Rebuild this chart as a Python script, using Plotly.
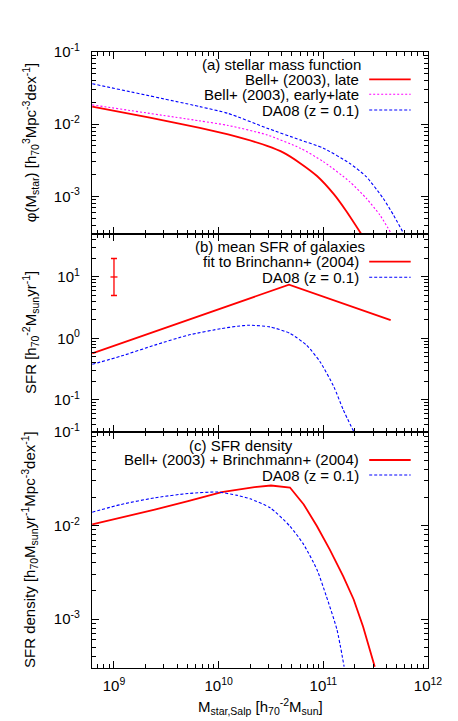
import plotly.graph_objects as go

# (a) stellar mass function  [h70^3 Mpc^-3 dex^-1]
mass_a_late = [6.2e8, 2.2e9, 6.6e9, 1.23e10, 2.9e10, 4.2e10, 6.0e10, 8.7e10, 1.26e11, 1.66e11, 2.34e11]
phi_a_late = [0.0175, 0.0123, 0.0089, 0.0072, 0.0050, 0.0040, 0.00288, 0.00191, 0.00107, 0.00062, 0.00029]
mass_a_all = [6.2e8, 6.6e9, 1.23e10, 2.9e10, 6.0e10, 1.0e11, 1.78e11, 2.57e11, 3.47e11, 4.37e11]
phi_a_all = [0.0185, 0.0111, 0.0096, 0.0071, 0.00465, 0.00303, 0.00160, 0.00094, 0.00055, 0.00032]
mass_a_da08 = [6.2e8, 6.6e9, 1.23e10, 2.9e10, 6.0e10, 1.0e11, 1.78e11, 2.57e11, 3.72e11, 4.68e11, 5.75e11]
phi_a_da08 = [0.0363, 0.0175, 0.0141, 0.0088, 0.00605, 0.00465, 0.00287, 0.00187, 0.00094, 0.00055, 0.00032]

# (b) mean SFR of galaxies  [h70^-2 Msun yr^-1]
mass_b_fit = [6.2e8, 4.7e10, 4.4e11]
sfr_b_fit = [0.57, 7.5, 1.98]
mass_b_da08 = [6.2e8, 1.17e9, 2.45e9, 5.1e9, 1.07e10, 1.51e10, 1.95e10, 3.1e10, 4.8e10,
               6.9e10, 9.3e10, 1.26e11, 1.55e11, 1.95e11]
sfr_b_da08 = [0.379, 0.516, 0.778, 1.13, 1.45, 1.58, 1.64, 1.54, 1.21, 0.778, 0.418, 0.164, 0.0689, 0.0306]
err_mass = [1e9]
err_sfr = [10]
err_up = [10]
err_down = [5]

# (c) SFR density  [h70 Msun yr^-1 Mpc^-3 dex^-1]
mass_c_bb = [6.2e8, 1.17e9, 2.45e9, 5.1e9, 1.07e10, 2.2e10, 3.16e10, 4.8e10, 6.5e10, 8.7e10,
             1.15e11, 1.55e11, 1.95e11, 2.4e11, 3.1e11]
rho_c_bb = [0.0103, 0.0121, 0.0148, 0.0182, 0.0228, 0.0257, 0.0268, 0.0255, 0.0168, 0.00984,
            0.00557, 0.00286, 0.00162, 0.00083, 0.00031]
mass_c_da08 = [6.2e8, 1.17e9, 2.45e9, 5.1e9, 9.8e9, 1.51e10, 2.0e10, 3.1e10, 4.8e10, 6.5e10,
               8.7e10, 1.07e11, 1.35e11, 1.58e11]
rho_c_da08 = [0.0139, 0.0168, 0.0198, 0.0220, 0.0228, 0.0210, 0.0193, 0.0155, 0.00984, 0.00625,
              0.00337, 0.00175, 0.00077, 0.00031]

x_ticks = [1e9, 1e10, 1e11, 1e12]
x_ticktext = ["10<sup>9</sup>", "10<sup>10</sup>", "10<sup>11</sup>", "10<sup>12</sup>"]
y_ticks_ac = [1e-1, 1e-2, 1e-3]
y_ticktext_ac = ["10<sup>-1</sup>", "10<sup>-2</sup>", "10<sup>-3</sup>"]
y_ticks_b = [1e1, 1e0, 1e-1]
y_ticktext_b = ["10<sup>1</sup>", "10<sup>0</sup>", "10<sup>-1</sup>"]

RED = "#ff0000"
MAG = "#ff00ff"
BLUE = "#0000ff"
FONT = "Liberation Sans, Arial, sans-serif"
FS = 15


def minor_vals(lo, hi):
    vals = []
    for e in range(lo, hi):
        for m in range(2, 10):
            vals.append(m * 10.0 ** e)
    return vals


fig = go.Figure()

fig.add_trace(go.Scatter(x=mass_a_late, y=phi_a_late, mode="lines", xaxis="x", yaxis="y",
                         line=dict(color=RED, width=1.8, shape="spline", smoothing=0.6)))
fig.add_trace(go.Scatter(x=mass_a_all, y=phi_a_all, mode="lines", xaxis="x", yaxis="y",
                         line=dict(color=MAG, width=1.1, dash="2px,2px", shape="spline", smoothing=0.6)))
fig.add_trace(go.Scatter(x=mass_a_da08, y=phi_a_da08, mode="lines", xaxis="x", yaxis="y",
                         line=dict(color=BLUE, width=1.1, dash="3px,2px", shape="spline", smoothing=0.6)))

fig.add_trace(go.Scatter(x=mass_b_fit, y=sfr_b_fit, mode="lines", xaxis="x2", yaxis="y2",
                         line=dict(color=RED, width=1.8)))
fig.add_trace(go.Scatter(x=mass_b_da08, y=sfr_b_da08, mode="lines", xaxis="x2", yaxis="y2",
                         line=dict(color=BLUE, width=1.1, dash="3px,2px", shape="spline", smoothing=0.6)))
fig.add_trace(go.Scatter(x=err_mass, y=err_sfr, mode="markers", xaxis="x2", yaxis="y2",
                         marker=dict(symbol="line-ew", size=5, line=dict(color=RED, width=1.3)),
                         error_y=dict(type="data", symmetric=False, array=err_up, arrayminus=err_down,
                                      color=RED, thickness=1.3, width=3)))

fig.add_trace(go.Scatter(x=mass_c_bb, y=rho_c_bb, mode="lines", xaxis="x3", yaxis="y3",
                         line=dict(color=RED, width=1.8)))
fig.add_trace(go.Scatter(x=mass_c_da08, y=rho_c_da08, mode="lines", xaxis="x3", yaxis="y3",
                         line=dict(color=BLUE, width=1.1, dash="3px,2px", shape="spline", smoothing=0.6)))

common = dict(type="log", showline=True, linecolor="black", linewidth=1.3, mirror="allticks",
              ticks="inside", ticklen=7, tickwidth=1, tickcolor="black", showgrid=False,
              zeroline=False, tickmode="array",
              minor=dict(ticks="inside", ticklen=3.5, tickwidth=1, tickcolor="black",
                         showgrid=False, tickmode="array"))

xr = [8.79, 12]
xminor = minor_vals(8, 12)
fig.update_layout(
    xaxis=dict(common, domain=[0, 1], anchor="y", range=xr, tickvals=x_ticks, showticklabels=False,
               minor=dict(common["minor"], tickvals=xminor)),
    xaxis2=dict(common, domain=[0, 1], anchor="y2", range=xr, tickvals=x_ticks, showticklabels=False,
                minor=dict(common["minor"], tickvals=xminor)),
    xaxis3=dict(common, domain=[0, 1], anchor="y3", range=xr, tickvals=x_ticks, ticktext=x_ticktext,
                ticklabelstandoff=4, minor=dict(common["minor"], tickvals=xminor)),
    yaxis=dict(common, domain=[0.7045, 1], anchor="x", range=[-3.523, -1], tickvals=y_ticks_ac,
               ticktext=y_ticktext_ac, ticklabelstandoff=8, minor=dict(common["minor"], tickvals=minor_vals(-4, -1))),
    yaxis2=dict(common, domain=[0.3831, 0.7045], anchor="x2", range=[-1.523, 1.699], tickvals=y_ticks_b,
                ticktext=y_ticktext_b, ticklabelstandoff=8, minor=dict(common["minor"], tickvals=minor_vals(-2, 2))),
    yaxis3=dict(common, domain=[0, 0.3831], anchor="x3", range=[-3.523, -1], tickvals=y_ticks_ac,
                ticktext=y_ticktext_ac, ticklabelstandoff=8, minor=dict(common["minor"], tickvals=minor_vals(-4, -1))),
    width=458, height=721,
    margin=dict(l=92, r=30, t=52, b=53),
    paper_bgcolor="white", plot_bgcolor="white",
    font=dict(family=FONT, size=FS, color="black"),
    showlegend=False,
)

# key text and samples, gnuplot style (text right-aligned, sample to the right)
keys = [
    ("(a) stellar mass function", None, 0.5625, 0.980, "center"),
    ("Bell+ (2003), late", dict(color=RED, width=1.8), 0.8006, 0.9557, "right"),
    ("Bell+ (2003), early+late", dict(color=MAG, width=1.1, dash="2px,2px"), 0.8006, 0.9313, "right"),
    ("DA08 (z = 0.1)", dict(color=BLUE, width=1.1, dash="3px,2px"), 0.8006, 0.9058, "right"),
    ("(b) mean SFR of galaxies", None, 0.5595, 0.6839, "center"),
    ("fit to Brinchann+ (2004)", dict(color=RED, width=1.8), 0.8006, 0.6596, "right"),
    ("DA08 (z = 0.1)", dict(color=BLUE, width=1.1, dash="3px,2px"), 0.8006, 0.6343, "right"),
    ("(c) SFR density", None, 0.4435, 0.3620, "center"),
    ("Bell+ (2003) + Brinchmann+ (2004)", dict(color=RED, width=1.8), 0.8006, 0.3377, "right"),
    ("DA08 (z = 0.1)", dict(color=BLUE, width=1.1, dash="3px,2px"), 0.8006, 0.3133, "right"),
]
for text, line, kx, ky, anchor in keys:
    fig.add_annotation(text=text, x=kx, y=ky, xref="paper", yref="paper", xanchor=anchor,
                       yanchor="middle", showarrow=False, font=dict(size=FS))
    if line is not None:
        fig.add_shape(type="line", xref="paper", yref="paper", x0=0.825, x1=0.9485, y0=ky, y1=ky,
                      line=line)

titles = [
    ("φ(M<sub>star</sub>) [h<sub>70</sub><sup>3</sup>Mpc<sup>-3</sup>dex<sup>-1</sup>]", 0.852),
    ("SFR [h<sub>70</sub><sup>-2</sup>M<sub>sun</sub>yr<sup>-1</sup>]", 0.5438),
    ("SFR density [h<sub>70</sub>M<sub>sun</sub>yr<sup>-1</sup>Mpc<sup>-3</sup>dex<sup>-1</sup>]", 0.1916),
]
for text, ty in titles:
    fig.add_annotation(text=text, x=-0.1845, y=ty, xref="paper", yref="paper", textangle=-90,
                       xanchor="center", yanchor="middle", showarrow=False, font=dict(size=FS))

fig.add_annotation(text="M<sub>star,Salp</sub> [h<sub>70</sub><sup>-2</sup>M<sub>sun</sub>]",
                   x=0.5, y=-0.0628, xref="paper", yref="paper", xanchor="center", yanchor="middle",
                   showarrow=False, font=dict(size=FS))

# drop the browser's default 8px body margin so the figure sits at the page corner
fig.write_html("out.html", config={"displayModeBar": False},
               post_script="document.body.style.margin='0';document.body.style.overflow='hidden';")
